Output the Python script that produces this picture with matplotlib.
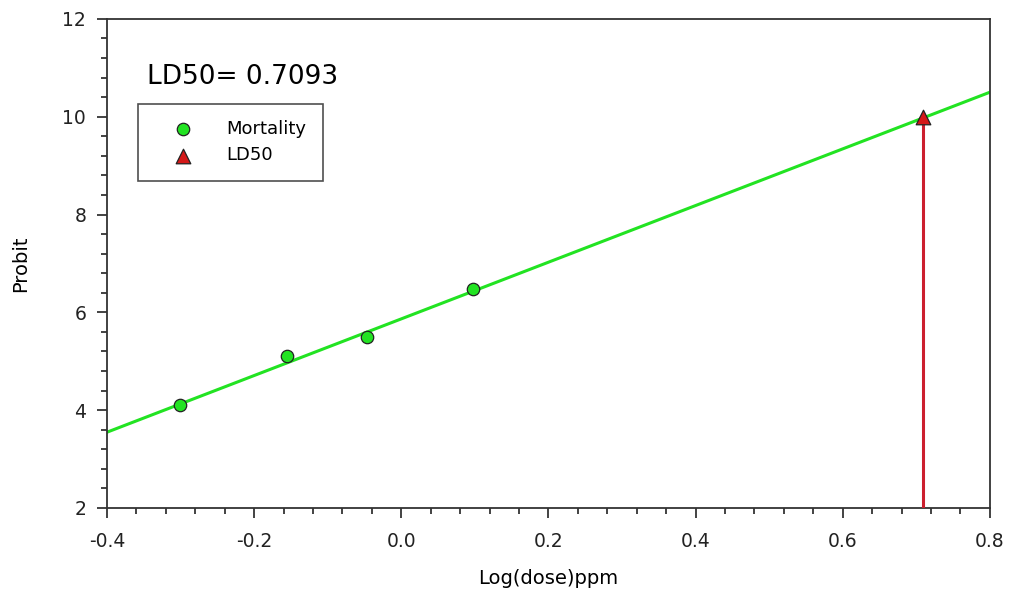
import numpy as np
import matplotlib.pyplot as plt
from matplotlib.ticker import MultipleLocator

plt.rcParams['font.family'] = ['DejaVu Sans']

# data
log_dose = [-0.301, -0.155, -0.046, 0.097]
probit = [4.1, 5.1, 5.5, 6.48]
fit_x = [-0.4, 0.8]
fit_y = [3.55, 10.5]
ld50 = 0.7093
ld50_probit = 10.0

fig = plt.figure(figsize=(10.1, 5.9), dpi=100)
ax = fig.add_axes([0.106, 0.139, 0.874, 0.829])

ax.plot(fit_x, fit_y, color='#22e322', lw=2.2, zorder=2)
ax.plot([ld50, ld50], [2, ld50_probit], color='#cc1f2e', lw=2.2, zorder=3)
ax.scatter(log_dose, probit, s=80, color='#22e322', edgecolor='#222222',
           linewidth=0.9, zorder=4, label='Mortality')
ax.scatter([ld50], [ld50_probit], s=110, marker='^', color='#d41818',
           edgecolor='#222222', linewidth=0.9, zorder=5, label='LD50')

ax.set_xlim(-0.4, 0.8)
ax.set_ylim(2, 12)
ax.xaxis.set_major_locator(MultipleLocator(0.2))
ax.xaxis.set_minor_locator(MultipleLocator(0.04))
ax.yaxis.set_major_locator(MultipleLocator(2))
ax.yaxis.set_minor_locator(MultipleLocator(0.4))
ax.xaxis.set_major_formatter(plt.FuncFormatter(lambda v, p: f'{v:.1f}'))
ax.tick_params(which='major', length=7, width=1.2, labelsize=13.5, colors='#222222')
ax.tick_params(axis='x', which='major', pad=10)
ax.tick_params(axis='y', which='major', pad=8)
ax.tick_params(which='minor', length=4, width=1.2, colors='#222222')
for s in ax.spines.values():
    s.set_linewidth(1.3)
    s.set_color('#333333')

ax.set_xlabel('Log(dose)ppm', fontsize=14, labelpad=13)
ax.set_ylabel('Probit', fontsize=14, labelpad=23)

ax.text(0.045, 0.881, 'LD50= 0.7093', transform=ax.transAxes, fontsize=19,
        va='center', ha='left')
leg = ax.legend(loc='upper left', bbox_to_anchor=(0.035, 0.826), fontsize=13,
                frameon=True, fancybox=False, edgecolor='#222222',
                borderpad=0.9, handletextpad=0.8, labelspacing=0.45,
                borderaxespad=0, handlelength=3.2)
leg.get_frame().set_linewidth(1.2)

plt.savefig('out.png', dpi=100)
